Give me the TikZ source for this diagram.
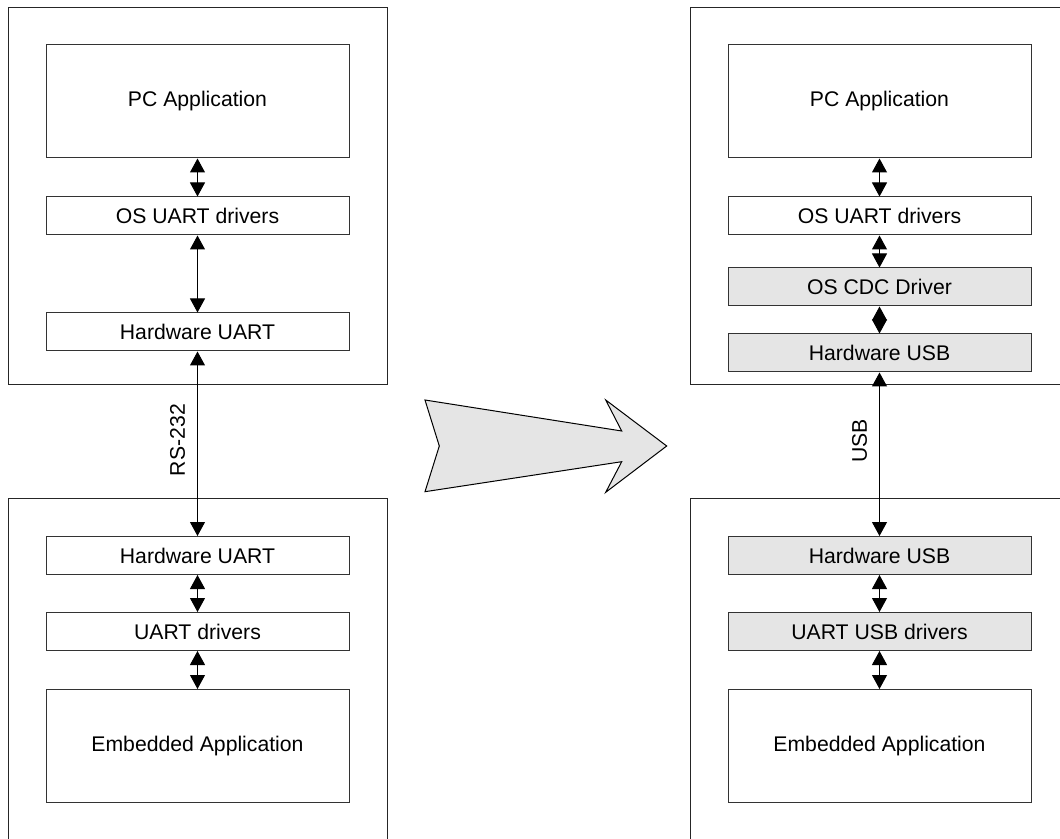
\documentclass[tikz,border=0pt]{standalone}
\usepackage{fontspec}
\setmainfont{Liberation Sans}
\usetikzlibrary{arrows.meta,positioning}

\begin{document}
\begin{tikzpicture}[
  font=\fontsize{10.6}{12.7}\selectfont,
  >={Triangle[length=7pt,width=7.5pt]},
  frame/.style ={draw=black!85,line width=0.5pt,minimum width=189.5pt,
                 minimum height=188.75pt,inner sep=0pt},
  layer/.style ={draw=black!80,fill=white,line width=0.5pt,minimum width=151.5pt,
                 minimum height=19pt,inner sep=0pt,align=center},
  app/.style   ={layer,minimum height=56.5pt},
  usb/.style   ={layer,fill=gray!20},
  link/.style  ={<->,line width=0.5pt,black},
  bus/.style   ={rotate=90,anchor=south,inner sep=6pt},
  bigarrow/.style={draw=black,fill=gray!20,line width=0.5pt,line join=miter},
]

\useasboundingbox (0,0) rectangle (530pt,-419.5pt);
\clip (0,0) rectangle (530pt,-419.5pt);

%% ===== Outer frames ==========================================================
\node[frame] (pcL)  at (98.75pt,-98.125pt)  {};
\node[frame] (embL) at (98.75pt,-343.75pt)  {};
\node[frame] (pcR)  at (439.75pt,-98.125pt) {};
\node[frame] (embR) at (439.75pt,-343.75pt) {};

%% ===== Left: UART ============================================================
\node[app] (appL) at (98.75pt,-50.75pt) {PC Application};
\node[layer,below=19pt of appL]      (osuartL) {OS UART drivers};
\node[layer,below=38.5pt of osuartL] (hwuartL) {Hardware UART};

\node[layer] (hwuartE) at (98.75pt,-277.75pt) {Hardware UART};
\node[layer,below=18.5pt of hwuartE] (drvE)    {UART drivers};
\node[app,below=19pt of drvE]        (embappL) {Embedded Application};

%% ===== Right: USB ============================================================
\node[app] (appR) at (439.75pt,-50.75pt) {PC Application};
\node[layer,below=19pt of appR]    (osuartR) {OS UART drivers};
\node[usb,below=16pt of osuartR]   (cdcR)    {OS CDC Driver};
\node[usb,below=13.5pt of cdcR]    (hwusbR)  {Hardware USB};

\node[usb] (hwusbE) at (439.75pt,-277.75pt) {Hardware USB};
\node[usb,below=18.5pt of hwusbE]  (usbdrvE) {UART USB drivers};
\node[app,below=19pt of usbdrvE]   (embappR) {Embedded Application};

%% ===== Arrows between layers =================================================
\foreach \a/\b in {appL/osuartL, osuartL/hwuartL, hwuartE/drvE, drvE/embappL,
                   appR/osuartR, osuartR/cdcR, cdcR/hwusbR,
                   hwusbE/usbdrvE, usbdrvE/embappR} {
  \draw[link] (\a) -- (\b);
}

%% ===== Cables ================================================================
\draw[link] (hwuartL) -- (hwuartE) node[bus,pos=0.48] {RS-232};
\draw[link] (hwusbR)  -- (hwusbE)  node[bus,pos=0.42] {USB};

%% ===== Migration arrow =======================================================
\draw[bigarrow] (212.5pt,-200pt) -- (219.65pt,-223pt) -- (212.5pt,-245.85pt)
  -- (310.85pt,-230.85pt) -- (302.85pt,-246.15pt) -- (333.35pt,-223pt)
  -- (302.85pt,-200pt) -- (310.85pt,-215.5pt) -- cycle;

\end{tikzpicture}
\end{document}
